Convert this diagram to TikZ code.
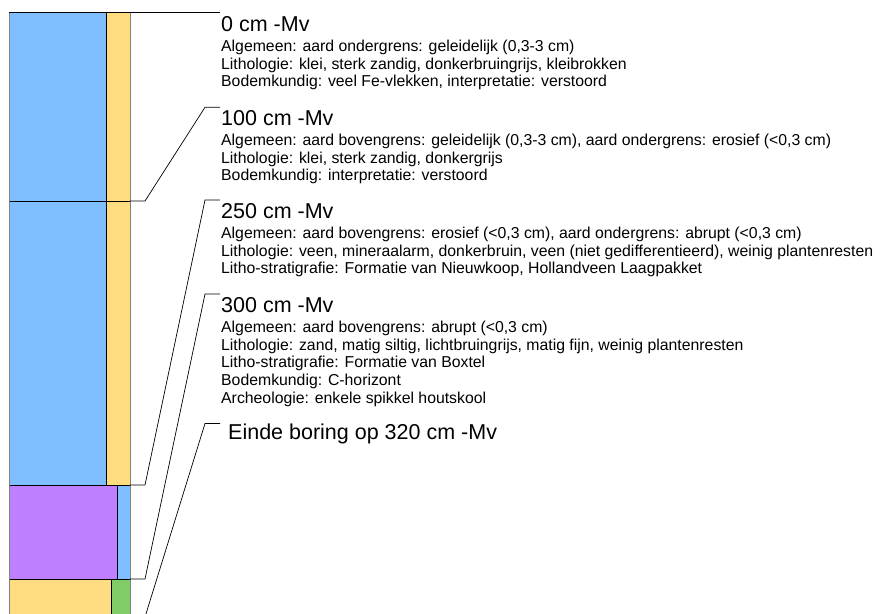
\documentclass[tikz,border=0pt]{standalone}
\usepackage{fontspec}
\setmainfont{Liberation Sans}
\usetikzlibrary{positioning,calc}
\definecolor{BorBlue}{HTML}{80BFFF}
\definecolor{BorSand}{HTML}{FFDC80}
\definecolor{BorPeat}{HTML}{BF80FF}
\definecolor{BorGreen}{HTML}{80CC66}
\definecolor{BorEdge}{HTML}{808080}

\begin{document}
\begin{tikzpicture}[x=1pt,y=-1pt,
    lay/.style={draw=black,line width=0.7pt},
    leader/.style={draw=black,line width=0.7pt},
    depth/.style={anchor=base west,inner sep=0,font=\fontsize{21.5}{21.5}\selectfont},
    info/.style={inner sep=0,align=left,font=\fontsize{15.8}{17.9}\selectfont}
  ]
  \clip (0,0) rectangle (882,613);
  % boring column
  \filldraw[lay,fill=BorBlue] (9,12.5) rectangle (106,201);
  \filldraw[lay,fill=BorSand] (106,12.5) rectangle (130,201);
  \filldraw[lay,fill=BorBlue] (9,201) rectangle (106,485);
  \filldraw[lay,fill=BorSand] (106,201) rectangle (130,485);
  \filldraw[lay,fill=BorPeat] (9,485) rectangle (117.5,579);
  \filldraw[lay,fill=BorBlue] (117.5,485) rectangle (130,579);
  \filldraw[lay,fill=BorSand] (9,579) rectangle (111.5,617);
  \filldraw[lay,fill=BorGreen] (111.5,579) rectangle (130,617);
  \draw[BorEdge,line width=1pt] (9,12.5) -- (9,617) (130,12.5) -- (130,617);
  % layer boundaries
  \coordinate (b0) at (130,12.5);
  \coordinate (b1) at (130,201);
  \coordinate (b2) at (130,485);
  \coordinate (b3) at (130,579);
  \coordinate (b4) at (130,617);

  % descriptions
  \node[depth] (t0) at (221,31) {0 cm -Mv};
  \node[info,below right=8.5pt and 0pt of t0.base west] (i0) {Algemeen: aard ondergrens: geleidelijk (0,3-3 cm)\\
    Lithologie: klei, sterk zandig, donkerbruingrijs, kleibrokken\\
    Bodemkundig: veel Fe-vlekken, interpretatie: verstoord};
  \node[depth] (t1) at (221,125) {100 cm -Mv};
  \node[info,below right=8.5pt and 0pt of t1.base west] (i1) {Algemeen: aard bovengrens: geleidelijk (0,3-3 cm), aard ondergrens: erosief (<0,3 cm)\\
    Lithologie: klei, sterk zandig, donkergrijs\\
    Bodemkundig: interpretatie: verstoord};
  \node[depth] (t2) at (221,218) {250 cm -Mv};
  \node[info,below right=8.5pt and 0pt of t2.base west] (i2) {Algemeen: aard bovengrens: erosief (<0,3 cm), aard ondergrens: abrupt (<0,3 cm)\\
    Lithologie: veen, mineraalarm, donkerbruin, veen (niet gedifferentieerd), weinig plantenresten\\
    Litho-stratigrafie: Formatie van Nieuwkoop, Hollandveen Laagpakket};
  \node[depth] (t3) at (221,312) {300 cm -Mv};
  \node[info,below right=8.5pt and 0pt of t3.base west] (i3) {Algemeen: aard bovengrens: abrupt (<0,3 cm)\\
    Lithologie: zand, matig siltig, lichtbruingrijs, matig fijn, weinig plantenresten\\
    Litho-stratigrafie: Formatie van Boxtel\\
    Bodemkundig: C-horizont\\
    Archeologie: enkele spikkel houtskool};
  \node[depth] (t4) at (228,439) {Einde boring op 320 cm -Mv};

  % leaders
  \draw[leader] (9,12.5) -- (b0) -- (220,12.5);
  \draw[leader] (b1) -- ++(15,0) -- (205,107.3) -- (220,107.3);
  \draw[leader] (b2) -- ++(15,0) -- (205,200) -- (220,200);
  \draw[leader] (b3) -- ++(15,0) -- (205,294) -- (220,294);
  \draw[leader] (b4) -- ++(15,0) -- (205,423.5) -- (220,423.5);
\end{tikzpicture}
\end{document}
